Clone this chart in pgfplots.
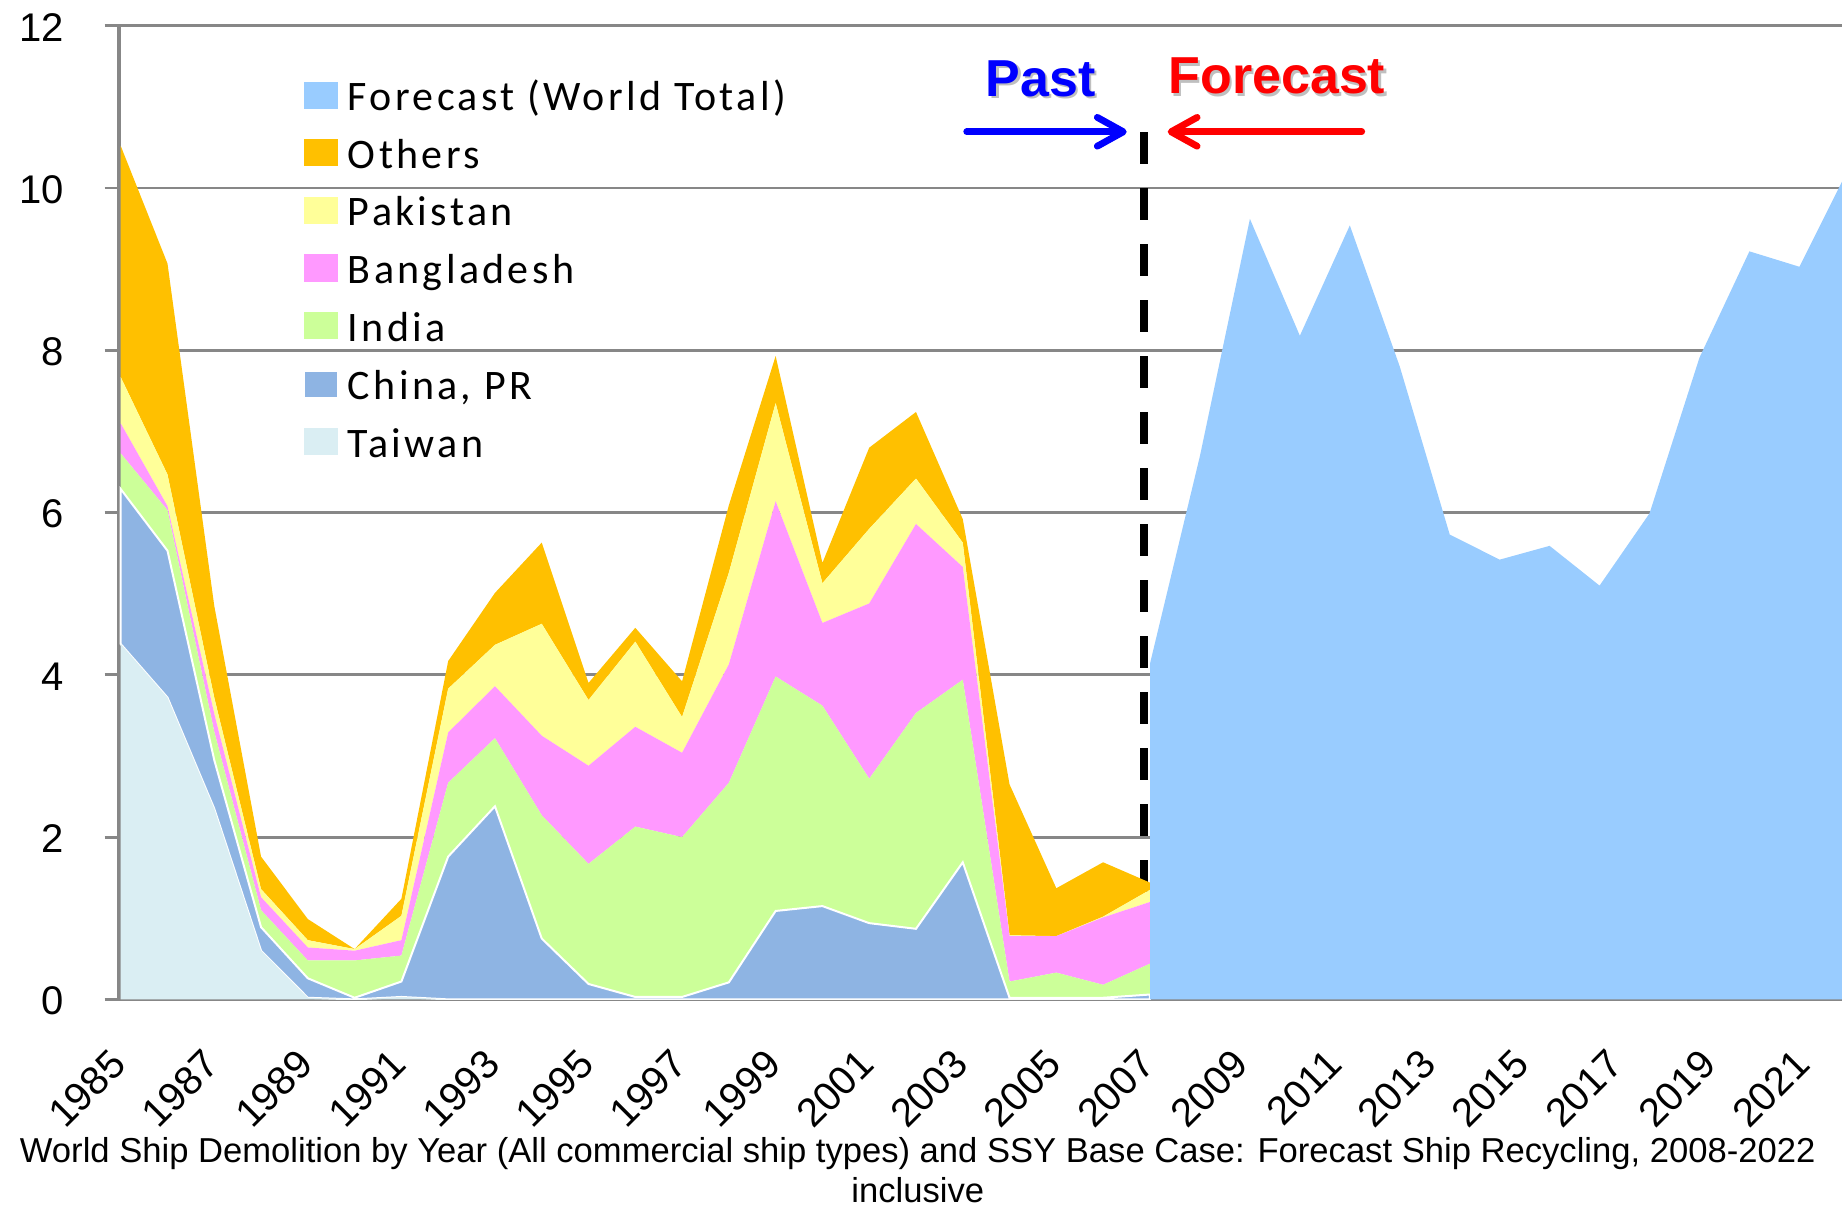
\documentclass[border=0pt]{standalone}
\usepackage{pgfplots}
\pgfplotsset{compat=1.18}
\usepackage{pgfplotstable}
\usepackage{fontspec}
\setmainfont{Liberation Sans}
\newfontfamily\legendfont[LetterSpace=8]{Carlito}
\usetikzlibrary{arrows.meta}

\definecolor{fc}{HTML}{99CCFF}
\definecolor{ot}{HTML}{FFC000}
\definecolor{pk}{HTML}{FFFF99}
\definecolor{bd}{HTML}{FF99FF}
\definecolor{in}{HTML}{CCFF99}
\definecolor{cn}{HTML}{8EB4E3}
\definecolor{tw}{HTML}{DAEEF3}
\definecolor{gridgray}{HTML}{878787}

\pgfplotstableread{
year tw cn in bd pk ot
1985 4.38 1.91 0.44 0.37 0.57 2.85
1986 3.72 1.81 0.50 0.05 0.39 2.60
1987 2.35 0.60 0.35 0.22 0.20 1.13
1988 0.60 0.29 0.21 0.16 0.10 0.40
1989 0.02 0.24 0.22 0.16 0.09 0.26
1990 0.00 0.02 0.46 0.12 0.02 0.00
1991 0.03 0.19 0.32 0.19 0.30 0.21
1992 0.00 1.76 0.91 0.62 0.54 0.34
1993 0.00 2.38 0.84 0.64 0.51 0.64
1994 0.00 0.75 1.52 0.98 1.38 1.00
1995 0.00 0.19 1.48 1.21 0.81 0.21
1996 0.00 0.03 2.10 1.23 1.05 0.17
1997 0.00 0.03 1.97 1.04 0.44 0.44
1998 0.00 0.21 2.46 1.46 1.13 0.83
1999 0.00 1.09 2.89 2.16 1.21 0.58
2000 0.00 1.15 2.47 1.02 0.49 0.25
2001 0.00 0.94 1.78 2.16 0.92 1.00
2002 0.00 0.87 2.66 2.33 0.56 0.82
2003 0.00 1.69 2.25 1.39 0.30 0.29
2004 0.00 0.02 0.20 0.56 0.01 1.86
2005 0.00 0.02 0.31 0.45 0.00 0.59
2006 0.00 0.02 0.16 0.83 0.01 0.67
2007 0.00 0.06 0.38 0.76 0.15 0.09
}\pastdata

\pgfplotstableread{
year total
2008 4.14
2009 6.70
2010 9.62
2011 8.18
2012 9.54
2013 7.80
2014 5.73
2015 5.42
2016 5.59
2017 5.10
2018 5.99
2019 7.91
2020 9.22
2021 9.03
2022 10.26
}\forecastdata

\begin{document}
\begin{tikzpicture}
\useasboundingbox (-29.675pt,-52.4pt) rectangle (430.825pt,249.85pt);
\begin{axis}[
  at={(0pt,0pt)}, anchor=south west,
  scale only axis, width=430.825pt, height=243.4pt,
  xmin=1984.957, xmax=2021.795, ymin=0, ymax=12,
  axis lines*=left,
  x axis line style={draw=gridgray, line width=0.75pt},
  y axis line style={draw=gridgray, line width=1pt},
  ytick={0,2,...,12},
  xtick={1985,1987,...,2021},
  ymajorgrids,
  grid style={draw=gridgray, line width=0.7pt},
  tick align=outside, major tick length=3.5pt,
  ytick style={draw=gridgray, line width=0.7pt},
  xtick style={draw=none},
  /pgf/number format/assume math mode=true,
  /pgf/number format/1000 sep={},
  ticklabel style={font=\fontsize{10}{12}\selectfont},
  yticklabel style={anchor=east, inner sep=0pt, xshift=-10pt, yshift=-0.4pt},
  xticklabel style={xshift=-0.48pt, yshift=-10.83pt, rotate=45, anchor=east, inner sep=0pt},
  stack plots=y,
  legend image code/.code={\fill[#1] (0pt,-2.9pt) rectangle (8.5pt,3.9pt);},
  legend style={draw=none, fill=none, at={(0.10677,0.94278)}, anchor=north west,
    inner sep=0pt, outer sep=0pt, row sep=7.1pt, column sep=2.3pt,
    font=\legendfont\fontsize{10.5}{12}\selectfont,
    nodes={inner sep=0pt, text height=6.8pt, text depth=0pt}},
  legend cell align=left,
  reverse legend,
]
\addplot[fill=tw, draw=none] table[x=year, y=tw] {\pastdata} \closedcycle;
\addlegendentry{Taiwan}
\addplot[fill=cn, draw=white, line width=0.5pt] table[x=year, y=cn] {\pastdata} \closedcycle;
\addlegendentry{China, PR}
\addplot[fill=in, draw=none] table[x=year, y=in] {\pastdata} \closedcycle;
\addlegendentry{India}
\addplot[fill=bd, draw=none] table[x=year, y=bd] {\pastdata} \closedcycle;
\addlegendentry{Bangladesh}
\addplot[fill=pk, draw=none] table[x=year, y=pk] {\pastdata} \closedcycle;
\addlegendentry{Pakistan}
\addplot[fill=ot, draw=none] table[x=year, y=ot] {\pastdata} \closedcycle;
\addlegendentry{Others}
\addlegendimage{fill=fc, draw=none}
\addlegendentry{Forecast (World Total)}
\draw[gridgray, line width=0.75pt] (rel axis cs:0,0) -- (rel axis cs:1,0);
\draw[gridgray, line width=1pt] (rel axis cs:0,0) -- (rel axis cs:0,1);
\draw[black, line width=2pt, dash pattern=on 8pt off 6pt] (axis cs:2006.88,10.69) -- (axis cs:2006.88,0);
\end{axis}
\begin{axis}[
  at={(0pt,0pt)}, anchor=south west,
  scale only axis, width=430.825pt, height=243.4pt,
  xmin=1987.353, xmax=2021.854, ymin=0, ymax=12,
  hide axis,
]
\addplot[fill=fc, draw=none] table[x=year, y=total] {\forecastdata} \closedcycle;
\end{axis}

% Past / Forecast annotation
\node[anchor=base west, inner sep=0pt, font=\bfseries\fontsize{13}{15}\selectfont, text=black, opacity=0.25] at (217.2pt,225.1pt) {Past};
\node[anchor=base west, inner sep=0pt, font=\bfseries\fontsize{13}{15}\selectfont, text=blue] at (216.6pt,225.7pt) {Past};
\node[anchor=base west, inner sep=0pt, font=\bfseries\fontsize{13}{15}\selectfont, text=black, opacity=0.25] at (262.85pt,225.75pt) {Forecast};
\node[anchor=base west, inner sep=0pt, font=\bfseries\fontsize{13}{15}\selectfont, text=red] at (262.25pt,226.35pt) {Forecast};
\draw[blue, line width=1.7pt, line cap=round, -{Straight Barb[length=6.5pt,width=7.2pt,line cap=round,line join=round]}] (212pt,216.9pt) -- (252pt,216.9pt);
\draw[red, line width=1.7pt, line cap=round, -{Straight Barb[length=6.5pt,width=7.2pt,line cap=round,line join=round]}] (310.75pt,216.9pt) -- (262.25pt,216.9pt);

% caption
\node[anchor=base, inner sep=0pt, font=\fontsize{8.65}{10}\selectfont] at (199.76pt,-40.65pt) {World Ship Demolition by Year (All commercial ship types) and SSY Base Case: Forecast Ship Recycling, 2008-2022};
\node[anchor=base, inner sep=0pt, font=\fontsize{8.65}{10}\selectfont] at (199.76pt,-50.9pt) {inclusive};
\end{tikzpicture}
\end{document}
